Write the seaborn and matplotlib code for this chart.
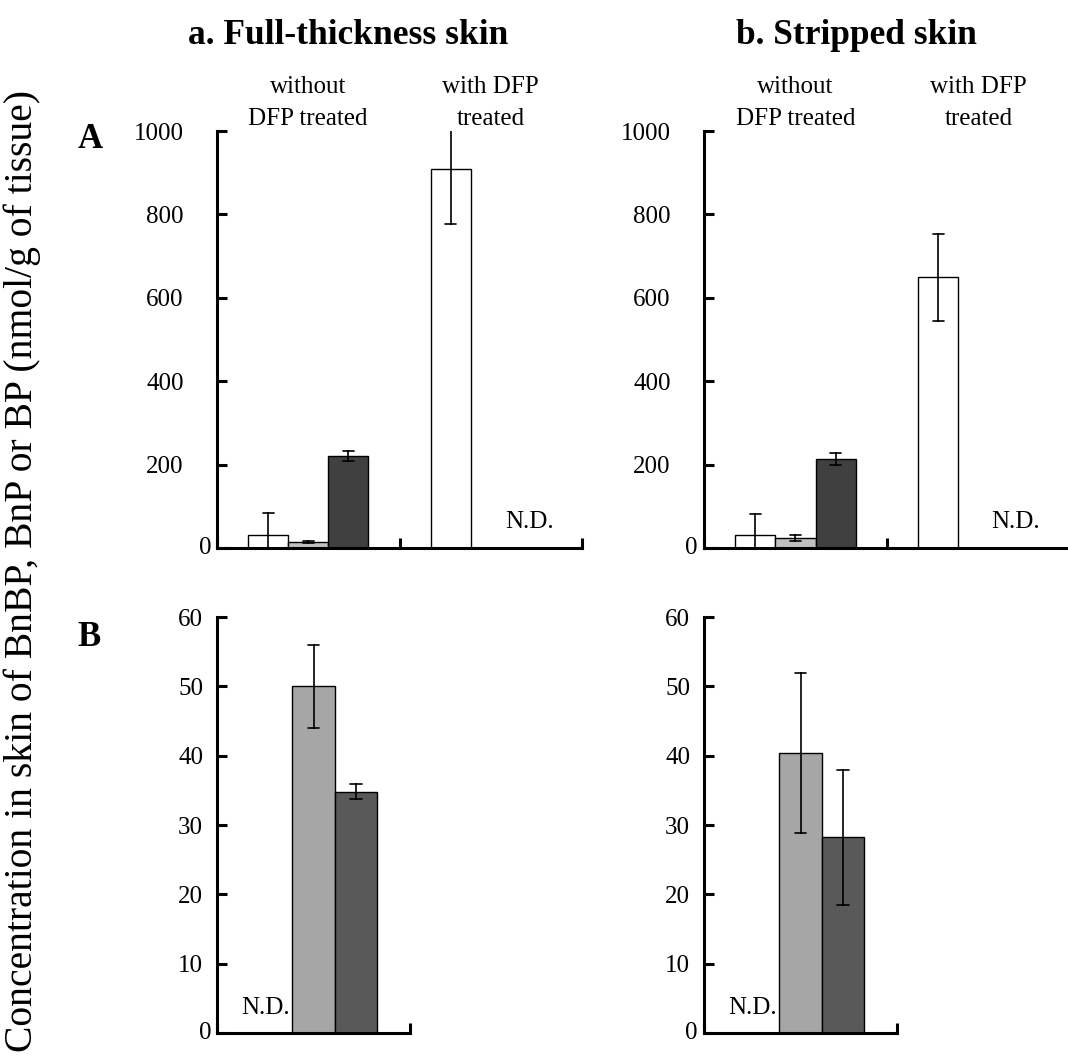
import numpy as np
import pandas as pd
import matplotlib
matplotlib.use("Agg")
import matplotlib.pyplot as plt
import seaborn as sns

sns.set_theme(style="ticks")
plt.rcParams["font.family"] = ["Liberation Serif", "DejaVu Serif"]
plt.rcParams.update({"text.color": "black", "xtick.color": "black",
                     "ytick.color": "black", "axes.labelcolor": "black"})

# ---- dados ----
compostos = ["BnBP", "BnP", "BP"]
grupos = ["without\nDFP treated", "with DFP\ntreated"]
grupo_b = ["all"]

# A: pele inteira / pele "stripped" (media e desvio)
a_full_media = [[32, 14, 221], [908, np.nan, np.nan]]
a_full_dp = [[52, 2, 12], [130, np.nan, np.nan]]
a_strip_media = [[31, 24, 213], [649, np.nan, np.nan]]
a_strip_dp = [[51, 7, 15], [105, np.nan, np.nan]]

# B
b_full_media = [[np.nan, 50.0, 34.8]]
b_full_dp = [[np.nan, 6.0, 1.1]]
b_strip_media = [[np.nan, 40.4, 28.2]]
b_strip_dp = [[np.nan, 11.5, 9.7]]

pal_a = {"BnBP": "#ffffff", "BnP": "#c0c0c0", "BP": "#404040"}
pal_b = {"BnBP": "#ffffff", "BnP": "#a6a6a6", "BP": "#595959"}

FS = 18
W, H = 1068, 1062


def tabela(grps, medias, dps):
    # duas linhas por barra (media-dp, media+dp): a media da a altura,
    # min/max dao a barra de erro
    linhas = []
    for g, m_lin, d_lin in zip(grps, medias, dps):
        for c, m, d in zip(compostos, m_lin, d_lin):
            if np.isnan(m):
                continue
            linhas += [(g, c, m - d), (g, c, m + d)]
    return pd.DataFrame(linhas, columns=["grupo", "composto", "conc"])


def painel(rect, grps, medias, dps, pal, ymax, passo, pad_y, nd_xy, rotulos_topo):
    ax = fig.add_axes([rect[0] / W, 1 - rect[3] / H, (rect[2] - rect[0]) / W,
                       (rect[3] - rect[1]) / H])
    df = tabela(grps, medias, dps)
    sns.barplot(data=df, x="grupo", y="conc", hue="composto", order=grps,
                hue_order=compostos, palette=pal, estimator="mean",
                errorbar=lambda v: (v.min(), v.max()), capsize=0.18,
                err_kws={"color": "black", "linewidth": 1.2},
                edgecolor="black", linewidth=1.0, width=0.66,
                legend=False, ax=ax)
    ax.set_xlim(-0.5, len(grps) - 0.5)
    ax.set_ylim(0, ymax)
    ax.set_yticks(np.arange(0, ymax + 1, passo))
    ax.set_yticklabels([""] + [str(v) for v in np.arange(passo, ymax + 1, passo)])
    ax.annotate("0", xy=(0, 0), xycoords=("axes fraction", "data"),
                xytext=(-6, 0), textcoords="offset pixels",
                ha="right", va="center", fontsize=FS)
    ax.set_xlabel("")
    ax.set_ylabel("")
    ax.set_xticks(np.arange(len(grps)))
    ax.set_xticklabels(rotulos_topo if rotulos_topo else [""] * len(grps))
    ax.set_xticks(np.arange(-0.5, len(grps)), minor=True)
    ax.tick_params(axis="x", which="major", bottom=False, top=False,
                   labelbottom=False, labeltop=True, pad=-5.5, labelsize=FS)
    ax.tick_params(axis="x", which="minor", bottom=True, direction="in",
                   length=7, width=2.2)
    ax.tick_params(axis="y", direction="in", length=7, width=2.2,
                   pad=pad_y, labelsize=FS)
    for lab in ax.get_xticklabels():
        lab.set_linespacing(1.6)
    sns.despine(ax=ax)
    for s in ("left", "bottom"):
        ax.spines[s].set_linewidth(2.2)
        ax.spines[s].set_color("black")
    ax.text(nd_xy[0], nd_xy[1], "N.D.", ha="center", va="center", fontsize=FS)
    return ax


fig = plt.figure(figsize=(W / 100, H / 100), dpi=100)

painel((217, 131, 582, 548), grupos, a_full_media, a_full_dp, pal_a,
       1000, 200, 24, (1.21, 62), grupos)
painel((704, 131, 1070, 548), grupos, a_strip_media, a_strip_dp, pal_a,
       1000, 200, 24, (1.2, 62), grupos)
painel((217, 617, 410, 1033), grupo_b, b_full_media, b_full_dp, pal_b,
       60, 10, 10, (-0.25, 3.6), None)
painel((704, 617, 897, 1033), grupo_b, b_strip_media, b_strip_dp, pal_b,
       60, 10, 10, (-0.25, 3.6), None)

fig.text(348 / W, 1 - 35 / H, "a. Full-thickness skin", ha="center", va="center",
         fontsize=25.5, fontweight="bold")
fig.text(856 / W, 1 - 35 / H, "b. Stripped skin", ha="center", va="center",
         fontsize=25.5, fontweight="bold")
fig.text(90 / W, 1 - 140 / H, "A", ha="center", va="center",
         fontsize=25, fontweight="bold")
fig.text(89 / W, 1 - 637 / H, "B", ha="center", va="center",
         fontsize=25, fontweight="bold")
fig.text(22 / W, 1 - 571 / H,
         "Concentration in skin of BnBP, BnP or BP (nmol/g of tissue)",
         rotation=90, ha="center", va="center", fontsize=28.5)

fig.savefig("out.png", dpi=100)
